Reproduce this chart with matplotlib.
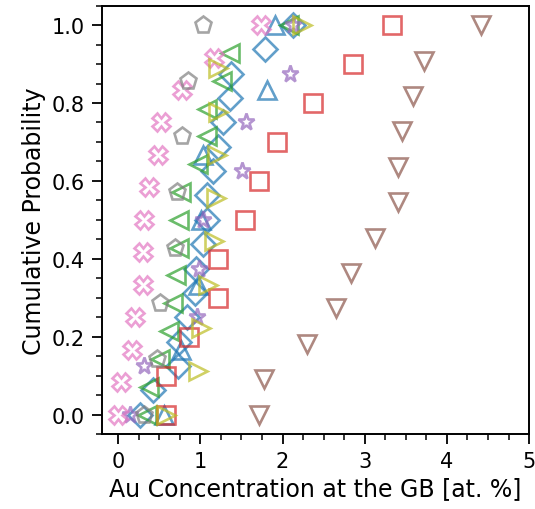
import matplotlib
matplotlib.use("Agg")
import matplotlib.pyplot as plt
from matplotlib.ticker import AutoMinorLocator

# Au concentration at the GB [at. %] per sample, sorted
diamond_blue = [0.27, 0.43, 0.73, 0.74, 0.84, 0.93, 0.95, 1.03, 1.08, 1.08, 1.15, 1.22, 1.28, 1.36, 1.37, 1.79, 2.13]
triangle_blue = [0.56, 0.76, 0.97, 1.01, 1.03, 1.81, 1.91]
left_green = [0.35, 0.37, 0.51, 0.62, 0.67, 0.70, 0.74, 0.74, 0.76, 0.97, 1.08, 1.08, 1.26, 1.36, 2.08]
square_red = [0.58, 0.58, 0.86, 1.21, 1.22, 1.54, 1.71, 1.93, 2.37, 2.86, 3.33]
star_purple = [0.14, 0.31, 0.96, 0.99, 1.03, 1.51, 1.56, 2.09, 2.13]
down_brown = [1.72, 1.77, 2.30, 2.65, 2.83, 3.12, 3.41, 3.41, 3.45, 3.59, 3.72, 4.42]
x_pink = [0.0, 0.03, 0.165, 0.21, 0.30, 0.30, 0.32, 0.37, 0.49, 0.52, 0.78, 1.17, 1.74]
pent_gray = [0.31, 0.47, 0.51, 0.69, 0.72, 0.78, 0.85, 1.03]
right_olive = [0.58, 0.97, 1.01, 1.09, 1.17, 1.19, 1.20, 1.21, 1.22, 2.24]

series = [
    (diamond_blue, 'D', 'tab:blue'),
    (triangle_blue, '^', 'tab:blue'),
    (left_green, '<', 'tab:green'),
    (square_red, 's', 'tab:red'),
    (star_purple, '*', 'tab:purple'),
    (down_brown, 'v', 'tab:brown'),
    (x_pink, 'X', 'tab:pink'),
    (pent_gray, 'p', 'tab:gray'),
    (right_olive, '>', 'tab:olive'),
]


def cdf(vals):
    n = len(vals)
    return [i / (n - 1) for i in range(n)]


fig = plt.figure(figsize=(5.35, 5.10), dpi=100)
ax = fig.add_axes([0.190, 0.147, 0.799, 0.840])

for vals, marker, color in series:
    ax.plot(vals, cdf(vals), linestyle='none', marker=marker, markersize=12.5,
            markerfacecolor='none', markeredgecolor=color, markeredgewidth=1.9, alpha=0.7)

ax.set_xlim(-0.2, 5.0)
ax.set_ylim(-0.05, 1.05)
ax.set_xticks([0, 1, 2, 3, 4, 5])
ax.set_yticks([0.0, 0.2, 0.4, 0.6, 0.8, 1.0])
ax.xaxis.set_minor_locator(AutoMinorLocator(4))
ax.yaxis.set_minor_locator(AutoMinorLocator(4))
ax.tick_params(which='major', length=7, width=1.3, labelsize=15, pad=5)
ax.tick_params(which='minor', length=4, width=1.1)
for s in ax.spines.values():
    s.set_linewidth(1.4)

ax.set_xlabel('Au Concentration at the GB [at. %]', fontsize=17)
ax.set_ylabel('Cumulative Probability', fontsize=17)

fig.savefig('out.png', dpi=100)
